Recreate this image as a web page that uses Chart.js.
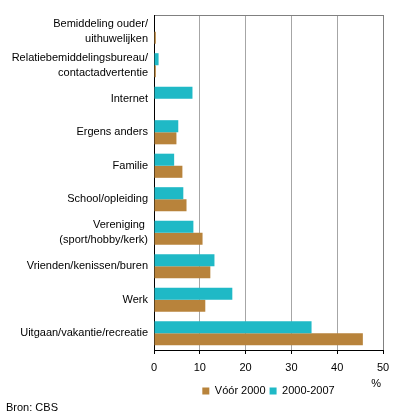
<!DOCTYPE html>
<html>
<head>
<meta charset="utf-8">
<script src="https://cdn.jsdelivr.net/npm/chart.js@4"></script>
<style>
  body { margin: 0; background: #fff; }
  #wrap { width: 396px; height: 420px; position: relative; }
</style>
</head>
<body>
<div id="wrap"><canvas id="myChart"></canvas></div>
<script>
const categories = [
  ["Bemiddeling ouder/", "uithuwelijken"],
  ["Relatiebemiddelingsbureau/", "contactadvertentie"],
  "Internet",
  "Ergens anders",
  "Familie",
  "School/opleiding",
  ["Vereniging ", "(sport/hobby/kerk)"],
  "Vrienden/kenissen/buren",
  "Werk",
  "Uitgaan/vakantie/recreatie"
];
const voor2000 = [0.4, 0.4, 0, 4.9, 6.2, 7.1, 10.6, 12.3, 11.2, 45.6];
const periode2000_2007 = [0, 1.0, 8.4, 5.3, 4.4, 6.4, 8.6, 13.2, 17.1, 34.4];
const xTicks = [0, 10, 20, 30, 40, 50];

const font = { family: "'Liberation Sans', Arial, sans-serif", size: 11 };

// legend centred under the plot area, "%" next to the axis end
const extras = {
  id: "extras",
  beforeDraw(chart) {
    chart.legend.left = chart.chartArea.left;
    chart.legend.right = chart.chartArea.right;
  },
  afterDraw(chart) {
    const ctx = chart.ctx;
    ctx.save();
    ctx.font = "11px 'Liberation Sans', Arial, sans-serif";
    ctx.fillStyle = "#000";
    ctx.textAlign = "right";
    ctx.textBaseline = "middle";
    ctx.fillText("%", chart.chartArea.right - 2, 384);
    ctx.restore();
  }
};

const ctx = document.getElementById("myChart");
new Chart(ctx, {
  type: "bar",
  data: {
    labels: categories,
    datasets: [
      {
        label: "2000-2007",
        data: periode2000_2007,
        backgroundColor: "#1fb9c6",
        borderWidth: 0,
        categoryPercentage: 0.72,
        barPercentage: 1.0
      },
      {
        label: "Vóór 2000",
        data: voor2000,
        backgroundColor: "#b8833b",
        borderWidth: 0,
        categoryPercentage: 0.72,
        barPercentage: 1.0
      }
    ]
  },
  options: {
    indexAxis: "y",
    responsive: true,
    maintainAspectRatio: false,
    animation: false,
    layout: { padding: { top: 15, left: 6, right: 13, bottom: 0 } },
    scales: {
      x: {
        min: 0,
        max: 50,
        afterBuildTicks: (scale) => { scale.ticks = xTicks.map(v => ({ value: v })); },
        ticks: { font: font, color: "#000", padding: 7 },
        grid: {
          color: (c) => (c.tick && c.tick.value === 50 ? "#808080" : "#a6a6a6"),
          tickColor: "#000",
          tickLength: 4
        },
        border: { display: true, color: "#000" },
        afterFit: (scale) => {
          scale.height = 31.5;
          scale.paddingLeft = 0;
          scale.paddingRight = 0;
        }
      },
      x2: {
        type: "linear",
        position: "top",
        min: 0,
        max: 50,
        ticks: { display: false },
        grid: { display: false },
        border: { display: true, color: "#808080" },
        afterFit: (scale) => { scale.height = 0; }
      },
      y: {
        ticks: { font: { family: font.family, size: 11, lineHeight: 1.35 }, color: "#000", padding: 6 },
        grid: { display: false, drawTicks: false },
        border: { display: true, color: "#000" },
        afterFit: (scale) => { scale.width = 148; }
      }
    },
    plugins: {
      legend: {
        position: "bottom",
        reverse: true,
        labels: { font: font, color: "#000", boxWidth: 7, boxHeight: 7, padding: 4 }
      },
      title: {
        display: true,
        text: "Bron: CBS",
        position: "bottom",
        align: "start",
        color: "#000",
        font: { family: font.family, size: 11, weight: "normal" },
        padding: { top: -5, bottom: 5.3 }
      },
      tooltip: { enabled: false }
    }
  },
  plugins: [extras]
});
</script>
</body>
</html>
